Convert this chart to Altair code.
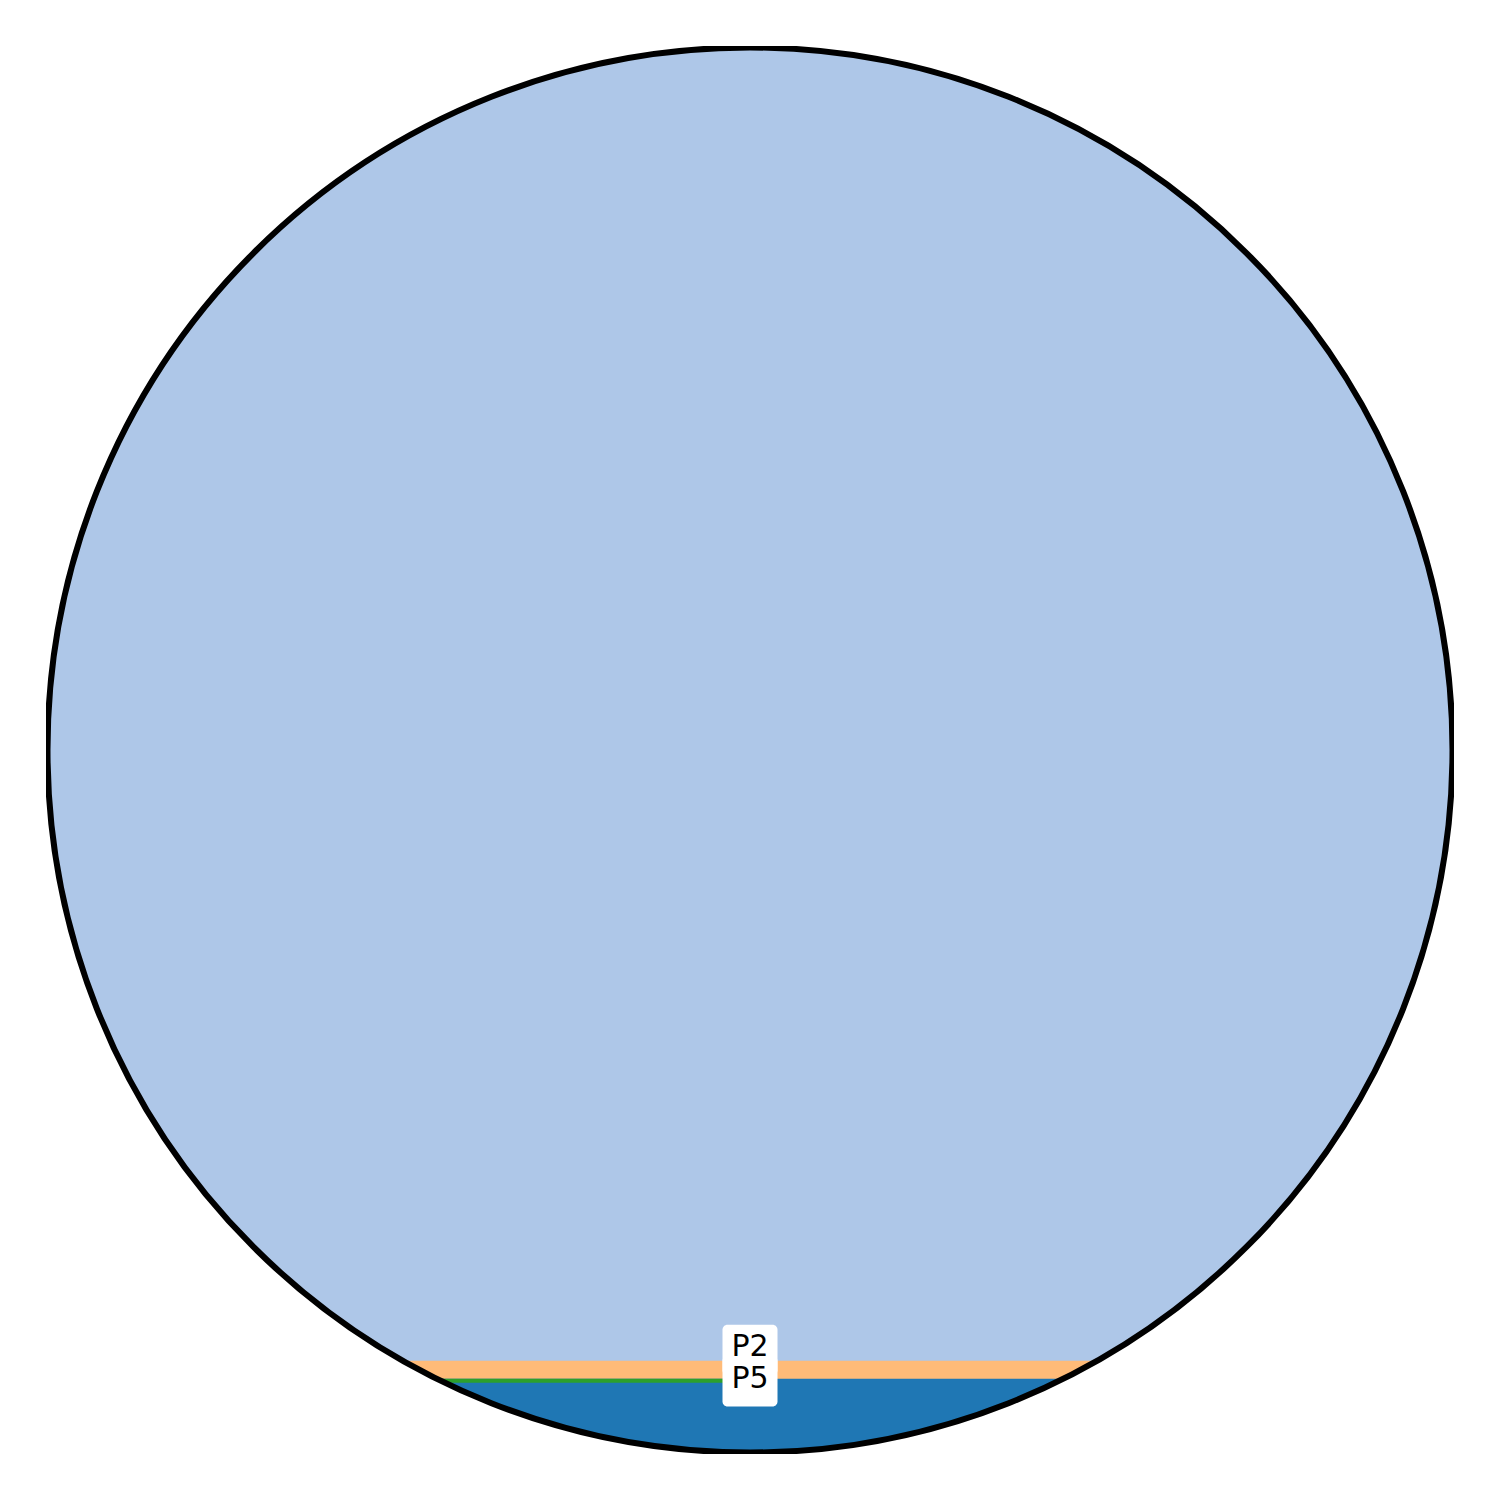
import numpy as np
import pandas as pd
import altair as alt

# Bands from bottom to top; shares are % of the circle's diameter
categories = ["P1", "P4", "P2"]
shares = [5.25, 1.28, 93.47]
colors = {"P1": "#1f77b4", "P2": "#aec7e8", "P4": "#ffbb78", "P5": "#2ca02c"}
# P5: thin strip on top of P1, left half only
p5_share = 0.28
labels = ["P2", "P5"]

R = 702.5
D = 2 * R
LIM = 704

xs = alt.Scale(domain=[-LIM, LIM], nice=False, zero=False)
ys = alt.Scale(domain=[-LIM, LIM], nice=False, zero=False)
cdom = list(colors.keys())
crng = [colors[k] for k in cdom]


def xgrid(extra):
    t = np.linspace(0, np.pi, 1600)
    x = -R * np.cos(t)
    x = np.concatenate([x, np.array(extra, dtype=float)])
    return np.unique(np.clip(x, -R, R))


def segment(name, top, x_max=None):
    xm = np.sqrt(max(R**2 - top**2, 0)) if abs(top) < R else R
    x = xgrid([-xm, xm, 0.0])
    circ = np.sqrt(np.maximum(R**2 - x**2, 0))
    lo = -circ
    hi = np.minimum(top, circ)
    keep = hi >= lo - 1e-9
    if x_max is not None:
        keep &= x <= x_max
    return pd.DataFrame({"band": name, "x": x[keep], "lo": lo[keep], "hi": np.maximum(hi[keep], lo[keep])})


def strip(name, bottom, top, x_max):
    xm = np.sqrt(R**2 - top**2)
    x = xgrid([-xm, x_max])
    circ = np.sqrt(np.maximum(R**2 - x**2, 0))
    lo = np.maximum(bottom, -circ)
    hi = np.full_like(x, top)
    keep = (hi >= lo) & (x <= x_max) & (x >= -xm)
    return pd.DataFrame({"band": name, "x": x[keep], "lo": lo[keep], "hi": hi[keep]})


levels = -R + np.cumsum(np.array(shares) / 100.0 * D)
lvl = dict(zip(categories, levels))

def area(df):
    return alt.Chart(df).mark_area(clip=True).encode(
        x=alt.X("x:Q", scale=xs, axis=None),
        y=alt.Y("lo:Q", scale=ys, axis=None),
        y2="hi:Q",
        color=alt.Color("band:N", scale=alt.Scale(domain=cdom, range=crng), legend=None),
    )

layers = []
# draw from the largest cumulative segment down
layers.append(area(segment("P2", R + 1)))
layers.append(area(segment("P4", lvl["P4"])))
layers.append(area(segment("P1", lvl["P1"])))
p5_top = lvl["P1"]
p5_bottom = p5_top - p5_share / 100.0 * D
layers.append(area(strip("P5", p5_bottom, p5_top, 0.0)))

outline = alt.Chart(pd.DataFrame({"x": [0.0], "y": [0.0]})).mark_point(
    shape="circle", size=D**2, filled=False, stroke="black", strokeWidth=6, opacity=1, clip=True
).encode(x=alt.X("x:Q", scale=xs, axis=None), y=alt.Y("y:Q", scale=ys, axis=None))
layers.append(outline)

# label positions
p5_text_y = (p5_top + p5_bottom) / 2 + 2.2
label_y = {"P5": p5_text_y, "P2": p5_text_y + 31.2}
for lab in labels:
    ty = label_y[lab]
    box = pd.DataFrame({"x": [-27.5], "x2": [27.5], "y": [ty + 22.5], "y2": [ty - 28.0]})
    layers.append(
        alt.Chart(box).mark_rect(fill="white", cornerRadius=5).encode(
            x=alt.X("x:Q", scale=xs, axis=None), x2="x2:Q",
            y=alt.Y("y:Q", scale=ys, axis=None), y2="y2:Q",
        )
    )
    txt = pd.DataFrame({"x": [0.0], "y": [ty], "t": [lab]})
    layers.append(
        alt.Chart(txt).mark_text(font="DejaVu Sans", fontSize=30, color="black",
                                 align="center", baseline="middle").encode(
            x=alt.X("x:Q", scale=xs, axis=None),
            y=alt.Y("y:Q", scale=ys, axis=None),
            text="t:N",
        )
    )

chart = alt.layer(*layers).properties(
    width=2 * LIM, height=2 * LIM, padding=46,
    autosize=alt.AutoSizeParams(type="none"), background="white",
).configure_view(stroke=None)

chart.save("out.html", embed_options={"renderer": "svg", "actions": False})
